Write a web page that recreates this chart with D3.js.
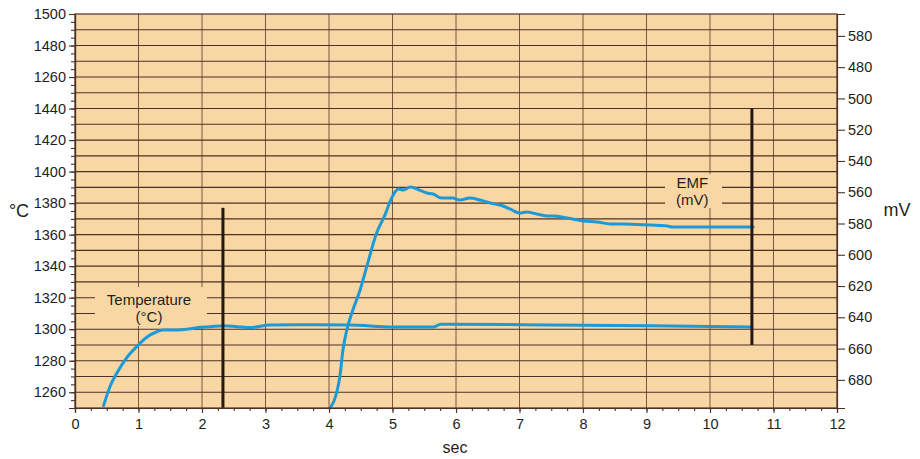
<!DOCTYPE html>
<html><head><meta charset="utf-8">
<script src="https://cdn.jsdelivr.net/npm/d3@7"></script>
<style>
body{margin:0;background:#fff}
svg{display:block}
text{font-family:"Liberation Sans",Arial,Helvetica,sans-serif;fill:#1e1e1e}
</style></head><body>
<svg id="chart" width="920" height="459"></svg>
<script>
// ---- data ----
const timeTicks = [0,1,2,3,4,5,6,7,8,9,10,11,12];
const tempTickValues = [1260,1280,1300,1320,1340,1360,1380,1400,1420,1440,1460,1480,1500];
const tempTickLabels = ["1260","1280","1300","1320","1340","1360","1380","1400","1420","1440","1260","1480","1500"];
const emfTickValues = [460,480,500,520,540,560,580,600,620,640,660,680];
const emfTickLabels = ["580","480","500","520","540","560","580","600","620","640","660","680"];

const tempTime   = [0.45,0.55,0.66,0.81,0.97,1.13,1.29,1.39,1.60,1.76,1.92,2.13,2.34,2.55,2.76,3.07,3.54,4.33,5.01,5.64,5.76,7.48,9.06,10.66];
const tempValues = [1251.5,1263.5,1272.2,1281.7,1288.9,1294.9,1298.4,1299.5,1299.5,1299.9,1301,1301.6,1302.2,1301.6,1301,1302.7,1302.9,1302.7,1301.4,1301.4,1303.2,1302.7,1302.2,1301.4];

const emfTime   = [4.02,4.12,4.17,4.22,4.28,4.36,4.49,4.61,4.75,4.88,4.96,5.04,5.09,5.17,5.28,5.38,5.54,5.64,5.77,5.95,6.06,6.22,6.38,6.54,6.74,6.85,7.01,7.11,7.27,7.45,7.53,7.75,8.0,8.22,8.43,8.63,9.06,9.33,9.4,10.68];
const emfValues = [698,688.4,678.2,660.9,648.1,637.2,622.5,605.3,586.1,574.6,566.2,559.8,557.9,558.6,556.6,557.9,560.5,561.1,563.7,563.7,565,563.7,565,566.9,568.8,570.7,573.3,572.6,573.9,575.2,575.2,576.5,578.4,579,580.3,580.3,581,581.6,582.2,582.2];

const markerTime   = [2.33,10.66];
const markerTopC   = [1377,1440];
const markerBottomC= [1250,1290];

// ---- layout ----
const svg = d3.select("#chart");
const L=75, R=837, T=14, B=408;
const x  = d3.scaleLinear([0,12],[L,R]);
const yL = d3.scaleLinear([1250,1500],[B,T]);
const yR = d3.scaleLinear([446,698],[T,B]);
const bg = "#f9d7a4", grid="#4e3125", blue="#1b9ad7";

svg.append("rect").attr("x",L).attr("y",T).attr("width",R-L).attr("height",B-T).attr("fill",bg);

// gridlines
svg.append("g").selectAll("line").data(d3.range(1260,1500,10)).join("line")
  .attr("x1",L).attr("x2",R).attr("y1",d=>yL(d)).attr("y2",d=>yL(d))
  .attr("stroke",grid).attr("stroke-width",1.1);
svg.append("g").selectAll("line").data(d3.range(1,12)).join("line")
  .attr("x1",d=>x(d)).attr("x2",d=>x(d)).attr("y1",T).attr("y2",B)
  .attr("stroke",grid).attr("stroke-width",0.9).attr("opacity",0.85);

// annotation boxes
function note(cx, lines, box){
  svg.append("rect").attr("x",box[0]).attr("y",box[1]).attr("width",box[2]).attr("height",box[3]).attr("fill",bg);
  lines.forEach((s,i)=>svg.append("text").attr("x",cx).attr("y",box[1]+box[4]+i*17)
    .attr("text-anchor","middle").attr("font-size",15).text(s));
}
note(x(1.165), ["Temperature","(°C)"], [95,287,112,39,18]);
note(x(9.72), ["EMF","(mV)"], [665,174,57,34,14]);

// curves
const lineT = d3.line().x((d,i)=>x(tempTime[i])).y(d=>yL(d)).curve(d3.curveMonotoneX);
svg.append("path").attr("d",lineT(tempValues)).attr("fill","none").attr("stroke",blue)
  .attr("stroke-width",3).attr("stroke-linejoin","round").attr("stroke-linecap","round");
const lineE = d3.line().x((d,i)=>x(emfTime[i])).y(d=>yR(d)).curve(d3.curveMonotoneX);
svg.append("path").attr("d",lineE(emfValues)).attr("fill","none").attr("stroke",blue)
  .attr("stroke-width",3).attr("stroke-linejoin","round").attr("stroke-linecap","round");

// markers
svg.append("g").selectAll("line").data(markerTime).join("line")
  .attr("x1",d=>x(d)).attr("x2",d=>x(d))
  .attr("y1",(d,i)=>yL(markerTopC[i])).attr("y2",(d,i)=>yL(markerBottomC[i]))
  .attr("stroke","#231815").attr("stroke-width",3);

// border
svg.append("rect").attr("x",L).attr("y",T).attr("width",R-L).attr("height",B-T)
  .attr("fill","none").attr("stroke",grid).attr("stroke-width",1.2);

// axes
function style(g){ g.selectAll(".domain").attr("stroke",grid).attr("stroke-width",1.2);
  g.selectAll(".tick line").attr("stroke",grid).attr("stroke-width",1.1);
  g.selectAll(".tick text").attr("font-size",14.5).attr("fill","#1e1e1e")
   .attr("font-family","'Liberation Sans',Arial,sans-serif"); }

svg.append("g").attr("transform",`translate(${L},0)`)
  .call(d3.axisLeft(yL).tickValues(d3.range(1255,1500,5)).tickSize(4).tickFormat(""))
  .call(style);
svg.append("g").attr("transform",`translate(${L},0)`)
  .call(d3.axisLeft(yL).tickValues(tempTickValues).tickSize(6).tickPadding(3).tickFormat((d,i)=>tempTickLabels[i]))
  .call(style);
svg.append("g").attr("transform",`translate(${R},0)`)
  .call(d3.axisRight(yR).tickValues(emfTickValues).tickSize(8).tickPadding(3).tickFormat((d,i)=>emfTickLabels[i]))
  .call(style);
svg.append("g").attr("transform",`translate(0,${B})`)
  .call(d3.axisBottom(x).tickValues(d3.range(0.25,12,0.25)).tickSize(3).tickFormat(""))
  .call(style);
svg.append("g").attr("transform",`translate(0,${B})`)
  .call(d3.axisBottom(x).tickValues(timeTicks).tickSize(5).tickPadding(6).tickFormat(d3.format("d")))
  .call(style);

// axis titles
svg.append("text").attr("x",19).attr("y",217).attr("text-anchor","middle").attr("font-size",18).text("°C");
svg.append("text").attr("x",897).attr("y",216).attr("text-anchor","middle").attr("font-size",18).text("mV");
svg.append("text").attr("x",455).attr("y",453).attr("text-anchor","middle").attr("font-size",16).text("sec");
</script>
</body></html>
